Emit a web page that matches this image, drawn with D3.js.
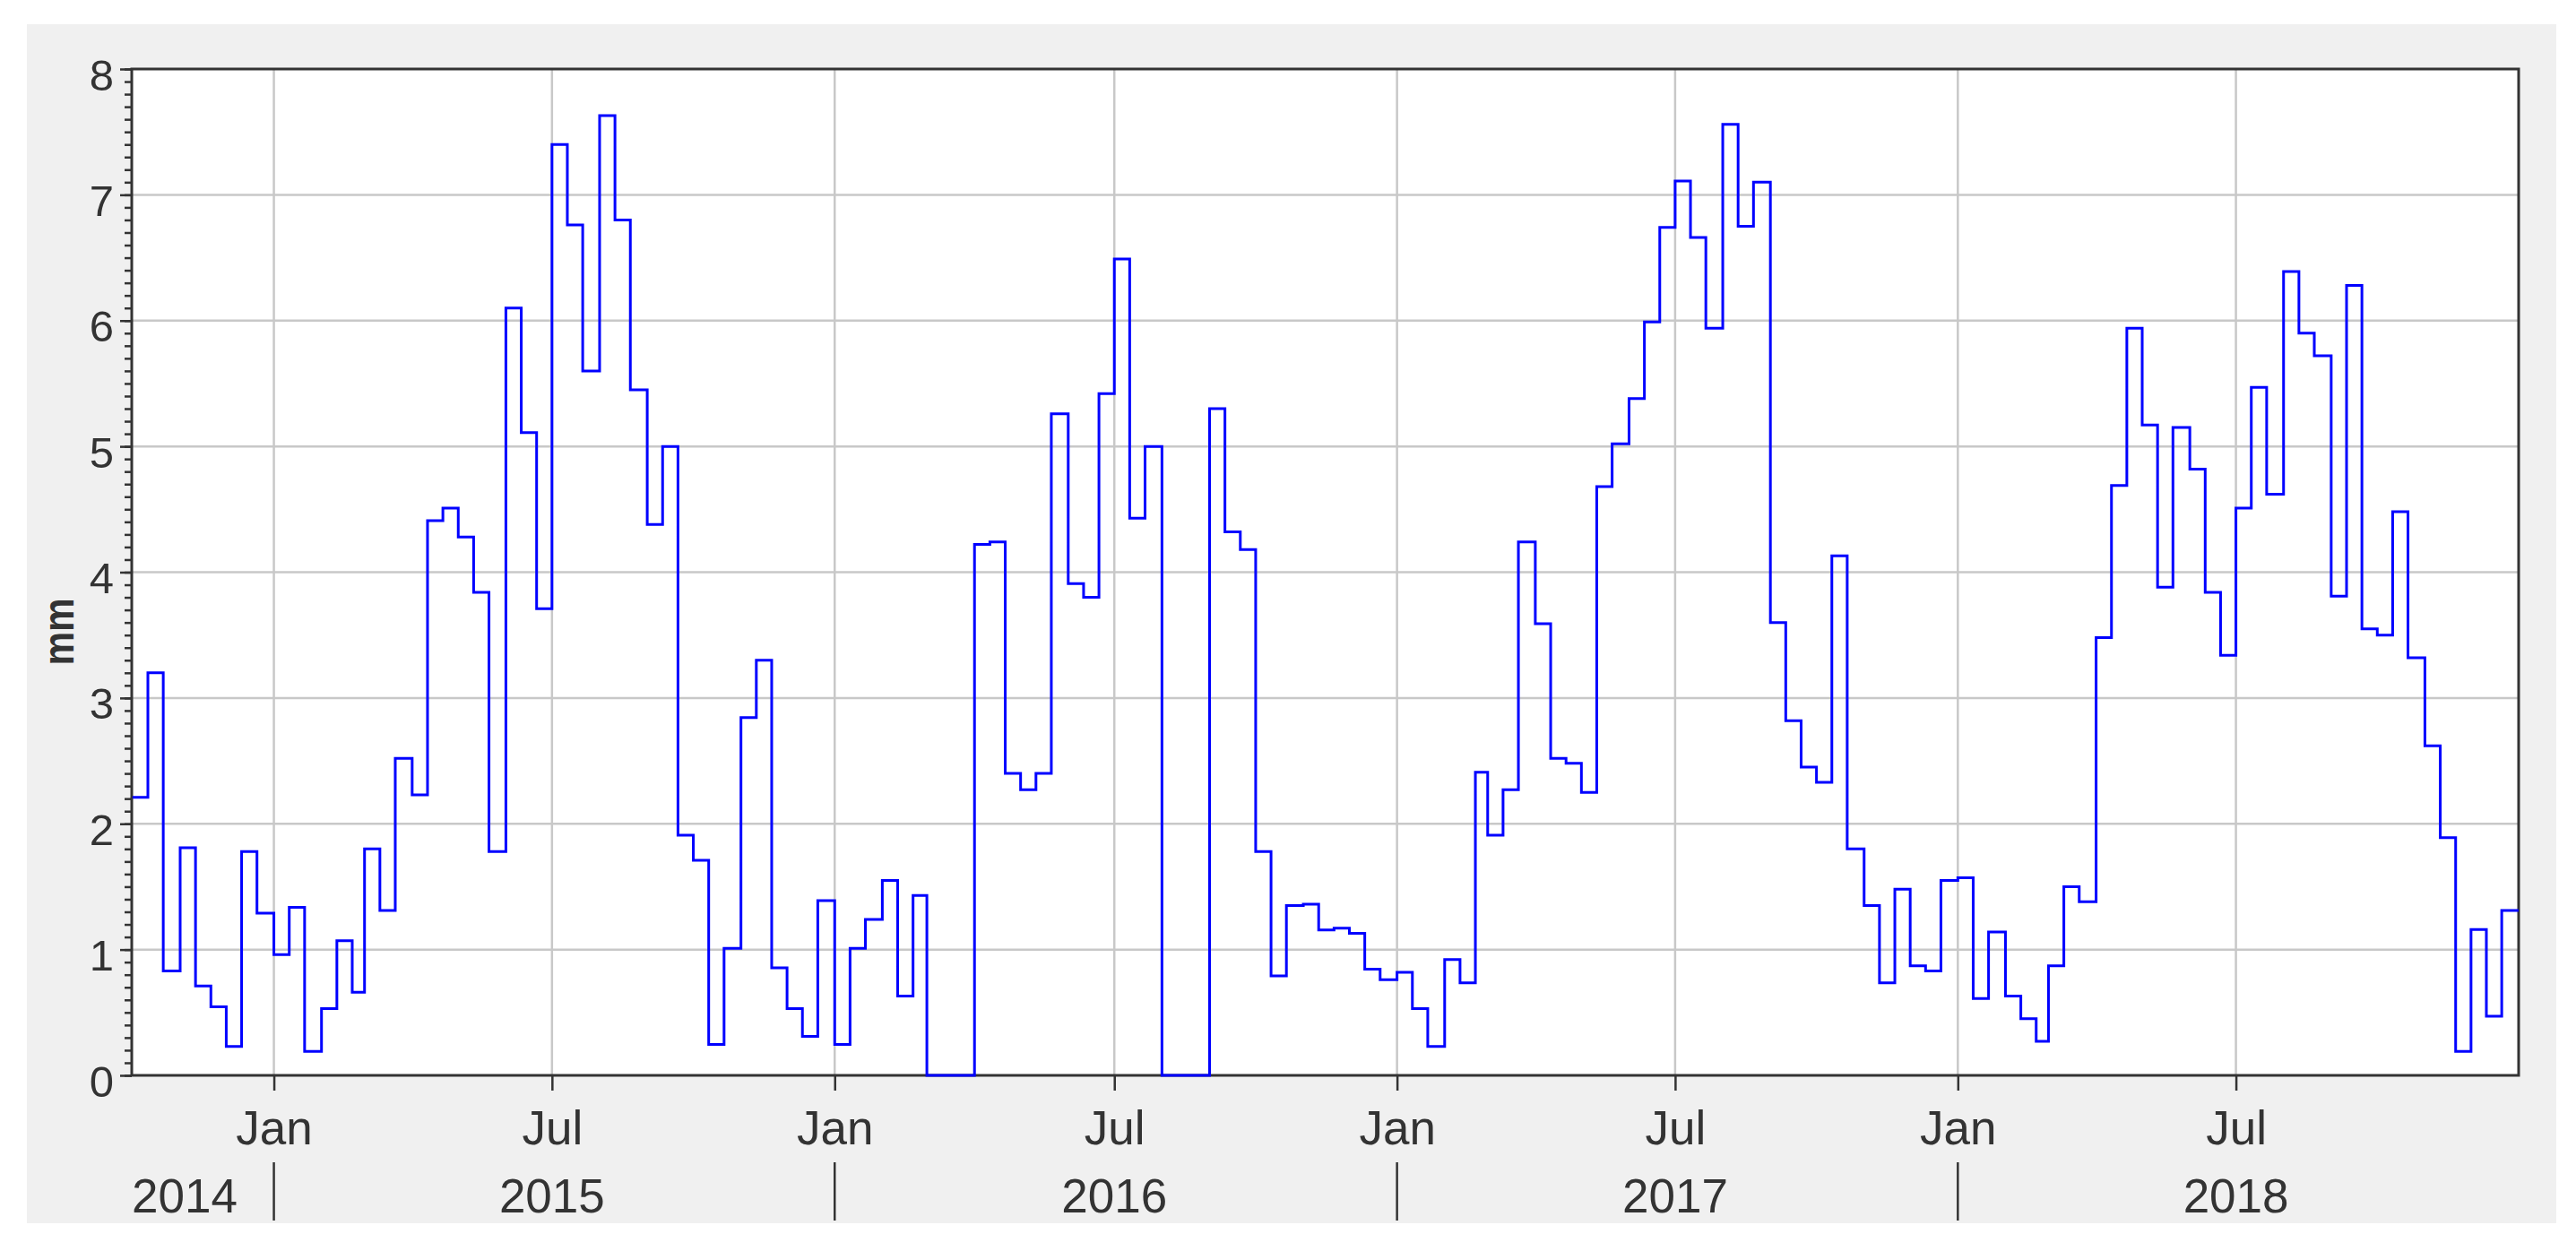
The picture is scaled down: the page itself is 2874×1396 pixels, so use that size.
<!DOCTYPE html>
<html>
<head>
<meta charset="utf-8">
<script src="https://cdn.jsdelivr.net/npm/d3@7"></script>
<style>
  html, body { margin: 0; padding: 0; background: #fff; }
  svg { display: block; }
  text { font-family: "Liberation Sans", Arial, sans-serif; fill: #333; }
</style>
</head>
<body>
<div id="chart"></div>
<script>
const W = 2874;
const H = 1396;

// dekadal values in mm, three per month (days 1-10, 11-20, 21-end)
const dekads2014 = [ // Oct - Dec
  2.21, 3.20, 0.83, 1.81, 0.71, 0.545, 0.23, 1.78, 1.29
];
const dekads2015 = [
  0.96, 1.335, 0.19, 0.53, 1.07, 0.66, 1.80, 1.31, 2.52,
  2.23, 4.41, 4.51, 4.28, 3.84, 1.78, 6.10, 5.11, 3.71,
  7.40, 6.76, 5.60, 7.63, 6.80, 5.45, 4.38, 5.00, 1.91,
  1.71, 0.245, 1.01, 2.845, 3.30, 0.855, 0.53, 0.31, 1.39
];
const dekads2016 = [
  0.245, 1.01, 1.24, 1.55, 0.63, 1.43, 0, 0, 0,
  4.22, 4.24, 2.40, 2.27, 2.40, 5.26, 3.91, 3.80, 5.42,
  6.49, 4.43, 5.00, 0, 0, 0, 5.30, 4.32, 4.18,
  1.78, 0.79, 1.35, 1.36, 1.155, 1.17, 1.13, 0.845, 0.76
];
const dekads2017 = [
  0.82, 0.53, 0.23, 0.92, 0.735, 2.41, 1.91, 2.27, 4.24,
  3.59, 2.52, 2.48, 2.25, 4.68, 5.02, 5.38, 5.99, 6.74,
  7.11, 6.66, 5.94, 7.56, 6.75, 7.10, 3.60, 2.82, 2.45,
  2.33, 4.13, 1.80, 1.35, 0.735, 1.48, 0.87, 0.83, 1.55
];
const dekads2018 = [
  1.57, 0.61, 1.14, 0.63, 0.45, 0.27, 0.87, 1.50, 1.38,
  3.48, 4.69, 5.94, 5.17, 3.88, 5.15, 4.82, 3.84, 3.34,
  4.51, 5.47, 4.62, 6.39, 5.90, 5.72, 3.81, 6.28, 3.55,
  3.50, 4.48, 3.32, 2.62, 1.89, 0.19, 1.16, 0.47, 1.31
];

const dekadDays = [1, 11, 21];
const yTicks = [0, 1, 2, 3, 4, 5, 6, 7, 8];
const years = [2014, 2015, 2016, 2017, 2018];
const yearLabels = ['2014', '2015', '2016', '2017', '2018'];
const yLabel = 'mm';

// year, first month index, values
const blocks = [
  [2014, 9, dekads2014],
  [2015, 0, dekads2015],
  [2016, 0, dekads2016],
  [2017, 0, dekads2017],
  [2018, 0, dekads2018]
];

const points = [];
blocks.forEach(([yr, m0, vals]) => {
  vals.forEach((v, i) => {
    points.push({
      date: new Date(yr, m0 + Math.floor(i / 3), dekadDays[i % 3]),
      value: v
    });
  });
});
const endDate = new Date(2019, 0, 1);
points.push({ date: endDate, value: points[points.length - 1].value });

const plot = { left: 147, top: 77, right: 2810, bottom: 1200 };

const x = d3.scaleTime()
  .domain([new Date(2014, 8, 30, 12), endDate])
  .range([plot.left, plot.right]);
const y = d3.scaleLinear()
  .domain([0, 8])
  .range([plot.bottom, plot.top]);

const svg = d3.select('#chart').append('svg')
  .attr('width', W)
  .attr('height', H)
  .attr('viewBox', `0 0 ${W} ${H}`);

// grey panel
svg.append('rect')
  .attr('x', 30).attr('y', 27)
  .attr('width', 2852 - 30).attr('height', 1365 - 27)
  .attr('fill', '#f0f0f0');

// plot area
svg.append('rect')
  .attr('x', plot.left).attr('y', plot.top)
  .attr('width', plot.right - plot.left)
  .attr('height', plot.bottom - plot.top)
  .attr('fill', '#fff');

const monthTicks = d3.timeMonth.every(6).range(new Date(2015, 0, 1), endDate);
const yearStarts = years.slice(1).map(yr => new Date(yr, 0, 1));

// grid
const grid = svg.append('g').attr('class', 'grid')
  .attr('stroke', '#c8c8c8').attr('stroke-width', 2.5);
grid.selectAll('line.h')
  .data(yTicks.slice(1, -1))
  .join('line')
  .attr('class', 'h')
  .attr('x1', plot.left).attr('x2', plot.right)
  .attr('y1', d => y(d)).attr('y2', d => y(d));
grid.selectAll('line.v')
  .data(monthTicks)
  .join('line')
  .attr('class', 'v')
  .attr('x1', d => x(d)).attr('x2', d => x(d))
  .attr('y1', plot.top).attr('y2', plot.bottom);

// y axis: minor ticks
svg.append('g')
  .attr('transform', `translate(${plot.left},0)`)
  .call(d3.axisLeft(y).tickValues(d3.range(0, 81).map(i => i / 10)).tickSize(8).tickFormat(''))
  .call(g => g.select('.domain').remove())
  .call(g => g.selectAll('line').attr('stroke', '#333').attr('stroke-width', 2.5));

// y axis: major ticks + labels
svg.append('g')
  .attr('transform', `translate(${plot.left},0)`)
  .call(d3.axisLeft(y).tickValues(yTicks).tickSize(13).tickPadding(7).tickFormat(d3.format('d')))
  .call(g => g.select('.domain').remove())
  .call(g => g.selectAll('line').attr('stroke', '#333').attr('stroke-width', 2.5))
  .call(g => g.selectAll('text')
    .attr('font-size', 49)
    .attr('dy', '0.47em')
    .attr('fill', '#333'));

// x axis: month ticks
svg.append('g')
  .attr('transform', `translate(0,${plot.bottom})`)
  .call(d3.axisBottom(x).tickValues(monthTicks).tickSize(17).tickFormat(d3.timeFormat('%b')))
  .call(g => g.select('.domain').remove())
  .call(g => g.selectAll('line').attr('stroke', '#333').attr('stroke-width', 2.5))
  .call(g => g.selectAll('text')
    .attr('font-size', 53)
    .attr('y', 77)
    .attr('dy', 0)
    .attr('fill', '#333'));

// year row
const yearRow = svg.append('g').attr('transform', `translate(0,${plot.bottom})`);
yearRow.selectAll('line')
  .data(yearStarts)
  .join('line')
  .attr('x1', d => x(d)).attr('x2', d => x(d))
  .attr('y1', 97).attr('y2', 162)
  .attr('stroke', '#333').attr('stroke-width', 2.5);
yearRow.selectAll('text')
  .data(years)
  .join('text')
  .attr('x', d => Math.max(x(new Date(d, 6, 1)), plot.left))
  .attr('y', 153)
  .attr('text-anchor', d => x(new Date(d, 6, 1)) < plot.left ? 'start' : 'middle')
  .attr('font-size', 53)
  .text((d, i) => yearLabels[i]);

// y axis title
svg.append('text')
  .attr('transform', 'translate(82,705) rotate(-90)')
  .attr('text-anchor', 'middle')
  .attr('font-size', 48)
  .attr('font-weight', 'bold')
  .attr('textLength', 75)
  .attr('lengthAdjust', 'spacingAndGlyphs')
  .text(yLabel);

// plot border
svg.append('rect')
  .attr('x', plot.left).attr('y', plot.top)
  .attr('width', plot.right - plot.left)
  .attr('height', plot.bottom - plot.top)
  .attr('fill', 'none')
  .attr('stroke', '#333')
  .attr('stroke-width', 3);

// step line
const line = d3.line()
  .x(d => x(d.date))
  .y(d => y(d.value))
  .curve(d3.curveStepAfter);

svg.append('path')
  .datum(points)
  .attr('fill', 'none')
  .attr('stroke', '#0000ff')
  .attr('stroke-width', 3)
  .attr('d', line);
</script>
</body>
</html>
